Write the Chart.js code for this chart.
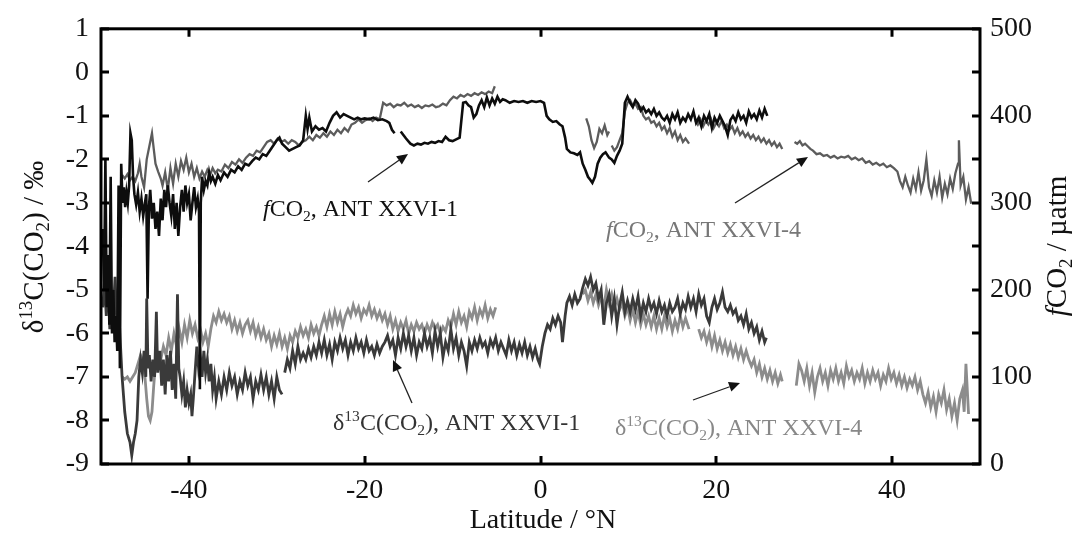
<!DOCTYPE html>
<html>
<head>
<meta charset="utf-8">
<script src="https://cdn.jsdelivr.net/npm/chart.js@4.4.1/dist/chart.umd.min.js"></script>
<style>
html,body{margin:0;padding:0;background:#fff;}
#wrap{width:1082px;height:534px;}
</style>
</head>
<body>
<div id="wrap"><canvas id="c" width="1082" height="534"></canvas></div>
<script>
// ---- axis ticks ----
const latTicks = [-40, -20, 0, 20, 40];
const deltaRange = [-9, 1];
const fco2Range = [0, 500];

// ---- series: [latitude °N, value] (null = gap) ----
const fco2_XXVI1 = [
[-49.8,270],[-49.65,200],[-49.5,350],[-49.35,180],[-49.2,240],[-49.05,160],[-48.9,330],[-48.75,150],[-48.6,200],[-48.45,140],
[-48.3,170],[-48.15,130],[-48.0,320],[-47.85,110],[-47.7,345],[-47.55,300],[-47.4,318],[-47.25,295],[-47.1,312],[-46.95,300],
[-46.8,320],[-46.65,380],[-46.5,372],[-46.35,330],[-46.2,310],[-46.0,298],[-45.8,312],[-45.6,290],[-45.4,305],[-45.2,285],
[-45.0,300],[-44.85,310],[-44.7,190],[-44.55,295],[-44.4,315],[-44.2,282],[-44.0,300],[-43.8,270],[-43.6,290],[-43.4,262],
[-43.2,305],[-43.0,280],[-42.8,315],[-42.6,295],[-42.4,320],[-42.2,300],[-42.0,285],[-41.8,310],[-41.6,270],[-41.4,300],
[-41.2,262],[-41.0,295],[-40.8,315],[-40.6,290],[-40.4,320],[-40.2,300],[-40.0,310],[-39.8,280],[-39.6,300],[-39.4,318],
[-39.2,295],[-39.0,305],[-38.85,290],[-38.75,86],[-38.65,300],[-38.5,330],[-38.3,315],[-38.1,325],[-37.9,320],[-37.7,335],
[-37.5,325],[-37.3,330],[-37.0,322],[-36.7,332],[-36.4,326],[-36.0,335],[-35.6,330],[-35.2,338],[-34.8,335],[-34.4,342],
[-34.0,338],[-33.6,345],[-33.2,343],[-32.8,348],[-32.4,352],[-32.0,350],[-31.6,356],[-31.2,354],[-30.8,360],[-30.4,366],
[-30.0,372],[-29.7,375],[-29.4,368],[-29.0,364],[-28.6,360],[-28.2,362],[-27.8,364],[-27.4,366],[-27.0,372],[-26.7,400],
[-26.5,385],[-26.3,398],[-26.0,382],[-25.6,388],[-25.2,384],[-24.8,386],[-24.4,382],[-24.0,392],[-23.6,400],[-23.2,404],
[-22.8,398],[-22.4,402],[-22.0,400],[-21.6,398],[-21.2,396],[-20.8,398],[-20.4,396],[-20.0,397],[-19.5,396],[-19.0,398],
[-18.5,395],[-18.0,396],[-17.5,394],[-17.2,392],[-16.9,384],[-16.6,380],[-16.4,null],[-15.9,382],[-15.6,378],[-15.3,374],
[-14.8,368],[-14.4,366],[-14.0,368],[-13.6,367],[-13.2,369],[-12.8,368],[-12.4,370],[-12.0,369],[-11.6,371],[-11.2,370],
[-10.8,376],[-10.4,372],[-10.0,371],[-9.6,373],[-9.2,375],[-9.0,395],[-8.8,415],[-8.5,416],[-8.2,412],[-7.9,410],
[-7.6,398],[-7.3,402],[-7.0,412],[-6.7,418],[-6.4,410],[-6.1,421],[-5.8,412],[-5.5,420],[-5.2,414],[-4.9,422],
[-4.6,416],[-4.3,419],[-4.0,418],[-3.5,415],[-3.0,417],[-2.5,416],[-2.0,417],[-1.5,415],[-1.0,417],[-0.5,416],
[0.0,417],[0.4,415],[0.7,400],[1.0,396],[1.4,393],[1.8,394],[2.2,390],[2.5,388],[2.8,375],[3.0,362],
[3.4,358],[3.8,357],[4.2,355],[4.5,358],[4.8,345],[5.1,338],[5.4,330],[5.7,326],[5.9,323],[6.2,330],
[6.5,345],[6.8,352],[7.1,356],[7.4,358],[7.8,352],[8.1,350],[8.4,346],[8.7,354],[9.0,360],[9.3,368],
[9.6,415],[9.9,422],[10.2,415],[10.5,410],[10.8,418],[11.1,414],[11.4,406],[11.7,410],[12.0,404],[12.3,407],
[12.6,402],[12.9,408],[13.2,400],[13.5,404],[13.8,398],[14.1,395],[14.4,400],[14.7,392],[15.0,402],[15.3,396],
[15.6,404],[15.9,392],[16.2,398],[16.5,394],[16.8,402],[17.1,396],[17.4,405],[17.7,392],[18.0,398],[18.3,388],
[18.6,400],[18.9,394],[19.2,402],[19.5,386],[19.8,398],[20.1,392],[20.4,400],[20.7,394],[21.0,388],[21.3,378],
[21.6,395],[21.9,400],[22.2,394],[22.5,404],[22.8,396],[23.1,400],[23.4,392],[23.7,405],[24.0,398],[24.3,402],
[24.6,396],[24.9,406],[25.2,398],[25.5,408],[25.8,400]
];

const fco2_XXVI4 = [
[-47.6,332],[-47.3,328],[-47.0,333],[-46.7,326],[-46.4,330],[-46.1,325],[-45.8,334],[-45.6,345],[-45.4,330],[-45.1,318],
[-44.8,350],[-44.5,365],[-44.2,380],[-44.0,362],[-43.8,345],[-43.5,336],[-43.2,328],[-43.0,320],[-42.7,335],[-42.4,315],
[-42.1,340],[-41.8,322],[-41.5,345],[-41.2,330],[-40.9,348],[-40.6,338],[-40.3,352],[-40.0,335],[-39.7,345],[-39.4,330],
[-39.1,340],[-38.8,328],[-38.5,336],[-38.2,330],[-37.9,338],[-37.6,332],[-37.3,340],[-37.0,334],[-36.7,338],[-36.3,336],
[-35.9,344],[-35.5,340],[-35.1,347],[-34.7,344],[-34.3,350],[-33.9,346],[-33.5,352],[-33.1,356],[-32.7,354],[-32.3,360],
[-31.9,358],[-31.5,364],[-31.1,370],[-30.7,372],[-30.3,368],[-29.9,374],[-29.5,370],[-29.1,372],[-28.7,368],[-28.3,372],
[-27.9,370],[-27.5,366],[-27.1,370],[-26.7,372],[-26.3,376],[-25.9,372],[-25.5,378],[-25.1,375],[-24.7,380],[-24.3,376],
[-23.9,382],[-23.5,378],[-23.1,384],[-22.7,380],[-22.3,386],[-21.9,382],[-21.5,390],[-21.1,392],[-20.7,396],[-20.3,392],
[-19.9,395],[-19.5,397],[-19.1,394],[-18.7,398],[-18.3,396],[-17.9,415],[-17.5,412],[-17.1,414],[-16.7,410],[-16.3,413],
[-15.9,412],[-15.5,415],[-15.1,411],[-14.7,413],[-14.3,410],[-13.9,412],[-13.5,409],[-13.1,412],[-12.7,411],[-12.3,413],
[-11.9,410],[-11.5,411],[-11.1,414],[-10.7,412],[-10.3,418],[-9.9,422],[-9.5,420],[-9.1,424],[-8.7,422],[-8.3,425],
[-7.9,423],[-7.5,426],[-7.1,424],[-6.7,427],[-6.3,425],[-5.9,428],[-5.5,426],[-5.2,434],[-5.0,null],
[5.2,397],[5.5,388],[5.8,372],[6.1,363],[6.4,370],[6.7,385],[7.0,380],[7.3,389],[7.6,378],[7.8,382],[7.95,null],
[8.1,366],[8.4,360],[8.7,364],[9.0,372],[9.3,380],[9.6,405],[9.9,415],[10.2,418],[10.5,412],[10.8,414],
[11.1,408],[11.4,410],[11.7,400],[12.0,396],[12.3,398],[12.6,392],[12.9,394],[13.2,388],[13.5,392],[13.8,384],
[14.1,388],[14.4,380],[14.7,386],[15.0,376],[15.3,382],[15.6,372],[15.9,378],[16.2,370],[16.5,374],[16.9,368],[17.2,null],
[17.6,395],[17.9,390],[18.2,396],[18.5,388],[18.8,394],[19.1,390],[19.4,396],[19.7,386],[20.0,392],[20.3,388],
[20.6,394],[20.9,386],[21.2,390],[21.5,384],[21.8,388],[22.1,380],[22.4,386],[22.7,378],[23.0,382],[23.3,376],
[23.6,380],[23.9,374],[24.2,378],[24.5,372],[24.8,376],[25.1,370],[25.4,374],[25.7,368],[26.0,372],[26.3,366],
[26.6,370],[26.9,364],[27.2,368],[27.5,362],[27.7,null],
[28.9,370],[29.2,368],[29.5,371],[29.8,366],[30.1,368],[30.4,365],[30.7,362],[31.0,360],[31.4,356],[31.8,357],
[32.2,354],[32.6,355],[33.0,352],[33.4,354],[33.8,351],[34.2,353],[34.6,352],[35.0,354],[35.4,350],[35.8,352],
[36.2,349],[36.6,351],[37.0,346],[37.4,348],[37.8,344],[38.2,346],[38.6,343],[39.0,345],[39.4,341],[39.8,343],
[40.2,340],[40.6,336],[40.9,325],[41.2,318],[41.5,330],[41.8,320],[42.1,312],[42.4,328],[42.7,316],[43.0,335],
[43.3,314],[43.6,326],[43.9,350],[44.2,318],[44.5,308],[44.8,326],[45.1,312],[45.4,330],[45.7,306],[46.0,322],
[46.3,310],[46.6,328],[46.9,316],[47.2,334],[47.5,345],[47.6,372],[47.8,320],[48.1,330],[48.4,304],[48.7,318],[49.0,299]
];

const d13C_XXVI1 = [
[-49.8,-5.4],[-49.6,-4.8],[-49.4,-5.6],[-49.2,-4.6],[-49.0,-5.9],[-48.8,-5.0],[-48.6,-5.5],[-48.4,-4.7],[-48.2,-5.8],[-48.0,-5.3],
[-47.85,-6.0],[-47.6,-7.0],[-47.3,-7.8],[-47.0,-8.3],[-46.7,-8.5],[-46.5,-8.8],[-46.3,-8.5],[-46.1,-8.3],[-45.9,-8.0],[-45.7,-7.0],
[-45.5,-6.6],[-45.3,-6.9],[-45.1,-6.4],[-44.9,-7.0],[-44.8,-5.2],[-44.65,-6.8],[-44.5,-6.5],[-44.3,-7.1],[-44.1,-6.6],[-43.9,-7.0],
[-43.7,-5.5],[-43.55,-6.9],[-43.3,-6.4],[-43.1,-7.2],[-42.9,-6.6],[-42.7,-7.4],[-42.5,-6.5],[-42.3,-7.1],[-42.1,-6.4],[-41.9,-7.3],
[-41.7,-6.7],[-41.5,-7.5],[-41.3,-5.1],[-41.15,-6.8],[-41.0,-7.0],[-40.8,-7.4],[-40.6,-7.1],[-40.4,-7.7],[-40.2,-7.3],[-40.0,-7.6],
[-39.8,-7.4],[-39.65,-7.9],[-39.5,-7.5],[-39.3,-6.9],[-39.1,-6.3],[-38.9,-6.8],[-38.7,-6.5],[-38.5,-7.0],[-38.3,-6.4],[-38.1,-6.9],
[-37.9,-6.6],[-37.7,-7.1],[-37.5,-6.7],[-37.3,-7.3],[-37.1,-7.0],[-36.9,-7.5],[-36.6,-7.1],[-36.3,-7.4],[-36.0,-7.0],[-35.7,-7.3],
[-35.4,-6.9],[-35.1,-7.2],[-34.8,-7.0],[-34.5,-7.4],[-34.2,-7.1],[-33.9,-7.3],[-33.6,-6.9],[-33.3,-7.2],[-33.0,-7.0],[-32.7,-7.5],
[-32.4,-7.1],[-32.1,-7.3],[-31.8,-6.95],[-31.5,-7.3],[-31.2,-7.0],[-30.9,-7.4],[-30.6,-7.1],[-30.3,-7.5],[-30.0,-7.0],[-29.7,-7.3],
[-29.4,-7.4],[-29.3,null],[-29.1,-6.9],[-28.8,-6.6],[-28.5,-6.8],[-28.2,-6.4],[-27.9,-6.7],[-27.6,-6.3],[-27.3,-6.6],[-27.0,-6.45],
[-26.7,-6.6],[-26.4,-6.35],[-26.1,-6.55],[-25.8,-6.3],[-25.5,-6.5],[-25.2,-6.2],[-24.9,-6.45],[-24.6,-6.15],[-24.3,-6.5],[-24.0,-6.25],
[-23.7,-6.6],[-23.4,-6.2],[-23.1,-6.4],[-22.8,-6.1],[-22.5,-6.35],[-22.2,-6.15],[-21.9,-6.5],[-21.6,-6.2],[-21.3,-6.4],[-21.0,-6.1],
[-20.7,-6.35],[-20.4,-6.2],[-20.1,-6.45],[-19.8,-6.15],[-19.5,-6.4],[-19.2,-6.3],[-18.9,-6.5],[-18.6,-6.25],[-18.3,-6.45],[-18.0,-6.3],
[-17.7,-6.2],[-17.4,-6.05],[-17.1,-6.3],[-16.8,-6.15],[-16.5,-6.5],[-16.2,-6.1],[-15.9,-6.35],[-15.6,-6.0],[-15.3,-6.3],[-15.0,-6.05],
[-14.7,-6.4],[-14.4,-6.1],[-14.1,-6.5],[-13.8,-6.2],[-13.5,-6.35],[-13.2,-6.0],[-12.9,-6.3],[-12.6,-6.1],[-12.3,-6.45],[-12.0,-5.95],
[-11.7,-6.3],[-11.4,-6.0],[-11.1,-6.55],[-10.8,-6.2],[-10.5,-6.4],[-10.2,-5.9],[-9.9,-6.35],[-9.6,-6.1],[-9.3,-6.5],[-9.0,-6.2],
[-8.7,-6.4],[-8.4,-6.75],[-8.1,-6.2],[-7.8,-6.4],[-7.5,-6.15],[-7.2,-6.35],[-6.9,-6.1],[-6.6,-6.3],[-6.3,-6.2],[-6.0,-6.45],
[-5.7,-6.15],[-5.4,-6.3],[-5.1,-6.1],[-4.8,-6.4],[-4.5,-6.2],[-4.2,-6.35],[-3.9,-6.5],[-3.6,-6.15],[-3.3,-6.4],[-3.0,-6.2],
[-2.7,-6.5],[-2.4,-6.25],[-2.1,-6.45],[-1.8,-6.2],[-1.5,-6.5],[-1.2,-6.3],[-0.9,-6.55],[-0.6,-6.35],[-0.3,-6.6],[-0.1,-6.7],
[0.2,-6.3],[0.5,-6.0],[0.8,-5.8],[1.1,-5.9],[1.4,-5.65],[1.7,-5.8],[2.0,-5.6],[2.3,-5.75],[2.5,-6.2],[2.8,-5.6],
[3.0,-5.3],[3.3,-5.15],[3.6,-5.35],[3.9,-5.1],[4.2,-5.3],[4.5,-5.2],[4.8,-4.95],[5.1,-4.75],[5.4,-4.9],[5.7,-4.7],
[6.0,-5.0],[6.3,-4.85],[6.6,-5.2],[6.9,-5.0],[7.2,-5.8],[7.5,-5.3],[7.8,-5.1],[8.1,-5.6],[8.4,-5.2],[8.7,-5.8],
[9.0,-5.35],[9.3,-5.05],[9.6,-5.5],[9.9,-5.25],[10.2,-5.5],[10.5,-5.2],[10.8,-5.45],[11.1,-5.15],[11.4,-5.6],[11.7,-5.3],
[12.0,-5.5],[12.3,-5.2],[12.6,-5.45],[12.9,-5.3],[13.2,-5.55],[13.5,-5.25],[13.8,-5.5],[14.1,-5.35],[14.4,-5.6],[14.7,-5.3],
[15.0,-5.5],[15.3,-5.4],[15.6,-5.2],[15.9,-5.55],[16.2,-5.3],[16.5,-5.45],[16.8,-5.15],[17.1,-5.4],[17.4,-5.2],[17.7,-5.5],
[18.0,-5.1],[18.3,-5.35],[18.6,-5.2],[18.9,-5.6],[19.2,-5.75],[19.5,-5.4],[19.8,-5.2],[20.1,-5.45],[20.4,-5.3],[20.7,-5.05],
[21.0,-5.4],[21.3,-5.5],[21.6,-5.35],[21.9,-5.55],[22.2,-5.45],[22.5,-5.7],[22.8,-5.6],[23.1,-5.8],[23.4,-5.55],[23.7,-5.9],
[24.0,-5.75],[24.3,-6.0],[24.6,-5.85],[24.9,-6.15],[25.2,-5.95],[25.5,-6.2],[25.7,-6.1]
];

const d13C_XXVI4 = [
[-47.6,-7.0],[-47.3,-7.05],[-47.0,-7.0],[-46.7,-7.1],[-46.4,-7.0],[-46.1,-6.9],[-45.8,-6.7],[-45.5,-6.5],[-45.3,-6.6],[-45.0,-7.0],
[-44.8,-7.5],[-44.6,-7.9],[-44.4,-8.0],[-44.2,-7.8],[-44.0,-7.2],[-43.8,-6.7],[-43.5,-6.5],[-43.2,-6.6],[-42.9,-6.3],[-42.6,-6.5],
[-42.3,-6.1],[-42.0,-6.4],[-41.7,-6.0],[-41.4,-6.3],[-41.1,-5.9],[-40.8,-6.2],[-40.5,-5.8],[-40.2,-6.1],[-39.9,-5.7],[-39.6,-6.0],
[-39.3,-5.8],[-39.0,-6.1],[-38.7,-5.9],[-38.4,-6.2],[-38.1,-6.0],[-37.8,-6.3],[-37.5,-5.9],[-37.2,-5.6],[-36.9,-5.75],[-36.6,-5.5],
[-36.3,-5.7],[-36.0,-5.55],[-35.7,-5.75],[-35.4,-5.6],[-35.1,-5.9],[-34.8,-5.7],[-34.5,-5.95],[-34.2,-5.75],[-33.9,-6.0],[-33.6,-5.8],
[-33.3,-5.7],[-33.0,-5.95],[-32.7,-5.75],[-32.4,-6.05],[-32.1,-5.85],[-31.8,-6.1],[-31.5,-5.9],[-31.2,-6.15],[-30.9,-6.0],[-30.6,-6.3],
[-30.3,-6.05],[-30.0,-6.25],[-29.7,-6.0],[-29.4,-6.3],[-29.1,-6.1],[-28.8,-6.35],[-28.5,-6.05],[-28.2,-6.2],[-27.9,-5.95],[-27.6,-6.1],
[-27.3,-5.85],[-27.0,-6.05],[-26.7,-5.9],[-26.4,-6.1],[-26.1,-5.8],[-25.8,-6.0],[-25.5,-5.85],[-25.2,-6.05],[-24.9,-5.8],[-24.6,-5.6],
[-24.3,-5.85],[-24.0,-5.55],[-23.7,-5.8],[-23.4,-5.5],[-23.1,-5.75],[-22.8,-5.55],[-22.5,-5.85],[-22.2,-5.6],[-21.9,-5.45],[-21.6,-5.6],
[-21.3,-5.35],[-21.0,-5.55],[-20.7,-5.4],[-20.4,-5.65],[-20.1,-5.45],[-19.8,-5.55],[-19.5,-5.35],[-19.2,-5.6],[-18.9,-5.45],[-18.6,-5.65],
[-18.3,-5.5],[-18.0,-5.7],[-17.7,-5.55],[-17.4,-5.8],[-17.1,-5.6],[-16.8,-5.9],[-16.5,-5.7],[-16.2,-5.95],[-15.9,-5.75],[-15.6,-5.9],
[-15.3,-5.7],[-15.0,-6.0],[-14.7,-5.8],[-14.4,-5.95],[-14.1,-5.75],[-13.8,-5.9],[-13.5,-5.8],[-13.2,-6.0],[-12.9,-5.8],[-12.6,-5.95],
[-12.3,-5.75],[-12.0,-5.9],[-11.7,-5.8],[-11.4,-6.0],[-11.1,-5.85],[-10.8,-5.95],[-10.5,-5.7],[-10.2,-5.85],[-9.9,-5.55],[-9.6,-5.8],
[-9.3,-5.5],[-9.0,-5.75],[-8.7,-5.6],[-8.4,-5.85],[-8.1,-5.5],[-7.8,-5.65],[-7.5,-5.4],[-7.2,-5.7],[-6.9,-5.45],[-6.6,-5.6],
[-6.3,-5.35],[-6.0,-5.65],[-5.7,-5.45],[-5.4,-5.6],[-5.1,-5.4],[-5.0,null],
[4.8,-5.1],[5.1,-5.0],[5.4,-5.25],[5.7,-5.05],[6.0,-5.3],[6.3,-5.1],[6.6,-5.35],[6.9,-5.15],[7.2,-5.4],[7.5,-5.0],
[7.8,-5.3],[8.1,-5.1],[8.4,-5.4],[8.7,-5.2],[9.0,-5.45],[9.3,-5.3],[9.6,-5.6],[9.9,-5.4],[10.2,-5.7],[10.5,-5.45],
[10.8,-5.75],[11.1,-5.5],[11.4,-5.8],[11.7,-5.55],[12.0,-5.8],[12.3,-5.6],[12.6,-5.85],[12.9,-5.6],[13.2,-5.9],[13.5,-5.65],
[13.8,-5.9],[14.1,-5.6],[14.4,-5.85],[14.7,-5.65],[15.0,-5.95],[15.3,-5.7],[15.6,-5.9],[15.9,-5.6],[16.2,-5.85],[16.5,-5.65],
[16.9,-5.9],[17.2,null],
[18.0,-5.9],[18.3,-6.1],[18.6,-5.95],[18.9,-6.2],[19.2,-6.0],[19.5,-6.3],[19.8,-6.05],[20.1,-6.35],[20.4,-6.15],[20.7,-6.4],
[21.0,-6.2],[21.3,-6.45],[21.6,-6.25],[21.9,-6.5],[22.2,-6.3],[22.5,-6.55],[22.8,-6.35],[23.1,-6.6],[23.4,-6.4],[23.7,-6.6],
[24.0,-6.75],[24.3,-6.6],[24.6,-6.9],[24.9,-6.7],[25.2,-7.0],[25.5,-6.8],[25.8,-7.05],[26.1,-6.85],[26.4,-7.1],[26.7,-6.9],
[27.0,-7.15],[27.3,-6.95],[27.5,-7.1],[27.8,null],
[29.1,-7.2],[29.4,-6.7],[29.7,-6.85],[30.0,-7.1],[30.3,-6.8],[30.6,-7.2],[30.9,-6.9],[31.2,-7.35],[31.5,-7.0],[31.8,-6.8],
[32.1,-7.1],[32.4,-6.9],[32.7,-7.2],[33.0,-6.85],[33.3,-7.05],[33.6,-6.8],[33.9,-7.1],[34.2,-6.9],[34.5,-7.15],[34.8,-6.75],
[35.1,-7.0],[35.4,-6.85],[35.7,-7.1],[36.0,-6.9],[36.3,-7.05],[36.6,-6.8],[36.9,-7.15],[37.2,-6.9],[37.5,-7.1],[37.8,-6.85],
[38.1,-7.05],[38.4,-6.9],[38.7,-7.2],[39.0,-6.95],[39.3,-7.1],[39.6,-6.8],[39.9,-7.05],[40.2,-6.9],[40.5,-7.15],[40.8,-6.95],
[41.1,-7.2],[41.4,-7.0],[41.7,-7.25],[42.0,-7.05],[42.3,-7.2],[42.6,-7.0],[42.9,-7.3],[43.2,-7.1],[43.5,-7.4],[43.8,-7.6],
[44.1,-7.35],[44.4,-7.7],[44.7,-7.45],[45.0,-7.8],[45.3,-7.4],[45.6,-7.6],[45.9,-7.3],[46.2,-7.75],[46.5,-7.5],[46.8,-7.9],
[47.1,-7.6],[47.4,-8.0],[47.7,-7.5],[48.0,-7.3],[48.2,-7.8],[48.4,-6.7],[48.7,-7.85]
];

// ---- annotation labels ----
const labels = [
  {segs:[{t:'f',it:true},{t:'CO'},{t:'2',sub:true},{t:', ANT XXVI-1'}], x:263, y:216, color:'#111', arrow:[368,182,408,154]},
  {segs:[{t:'f',it:true},{t:'CO'},{t:'2',sub:true},{t:', ANT XXVI-4'}], x:606, y:237, color:'#777', arrow:[735,203,808,157]},
  {segs:[{t:'δ'},{t:'13',sup:true},{t:'C(CO'},{t:'2',sub:true},{t:'), ANT XXVI-1'}], x:333, y:430, color:'#333', arrow:[412,403,393,360]},
  {segs:[{t:'δ'},{t:'13',sup:true},{t:'C(CO'},{t:'2',sub:true},{t:'), ANT XXVI-4'}], x:615, y:435, color:'#888', arrow:[693,400,740,383]}
];

const FONT = '"Liberation Serif", "Times New Roman", serif';

function richWidth(ctx, segs, size){
  let w = 0;
  for(const s of segs){
    const fs = (s.sup||s.sub) ? size*0.65 : size;
    ctx.font = (s.it?'italic ':'') + fs + 'px ' + FONT;
    w += ctx.measureText(s.t).width;
  }
  return w;
}
function drawRich(ctx, segs, x, y, size, color){
  let cx = x;
  ctx.fillStyle = color;
  ctx.textBaseline = 'alphabetic';
  ctx.textAlign = 'left';
  for(const s of segs){
    const fs = (s.sup||s.sub) ? size*0.65 : size;
    ctx.font = (s.it?'italic ':'') + fs + 'px ' + FONT;
    let dy = 0;
    if(s.sup) dy = -size*0.38;
    if(s.sub) dy = size*0.22;
    ctx.fillText(s.t, cx, y+dy);
    cx += ctx.measureText(s.t).width;
  }
}
function arrow(ctx, x1,y1,x2,y2){
  ctx.save();
  ctx.strokeStyle = '#222'; ctx.fillStyle = '#111'; ctx.lineWidth = 1.3;
  const ang = Math.atan2(y2-y1, x2-x1);
  const L = 11, W = 5;
  const bx = x2 - L*Math.cos(ang), by = y2 - L*Math.sin(ang);
  ctx.beginPath(); ctx.moveTo(x1,y1); ctx.lineTo(bx,by); ctx.stroke();
  ctx.beginPath();
  ctx.moveTo(x2,y2);
  ctx.lineTo(bx + W*Math.sin(ang), by - W*Math.cos(ang));
  ctx.lineTo(bx - W*Math.sin(ang), by + W*Math.cos(ang));
  ctx.closePath(); ctx.fill();
  ctx.restore();
}

const framePlugin = {
  id:'frame',
  afterDatasetsDraw(chart){
    const {ctx, chartArea:a, scales} = chart;
    const x = scales.x, yL = scales.yL, yR = scales.yR;
    ctx.save();
    ctx.strokeStyle = '#000';
    ctx.lineWidth = 3;
    ctx.lineCap = 'butt';
    ctx.strokeRect(a.left, a.top, a.right-a.left, a.bottom-a.top);
    const T = 8;
    ctx.beginPath();
    for(let v = deltaRange[0]; v <= deltaRange[1]; v++){
      const py = Math.round(yL.getPixelForValue(v));
      ctx.moveTo(a.left, py); ctx.lineTo(a.left+T, py);
    }
    for(let v = fco2Range[0]; v <= fco2Range[1]; v += 50){
      const py = Math.round(yR.getPixelForValue(v));
      ctx.moveTo(a.right, py); ctx.lineTo(a.right-T, py);
    }
    for(const v of latTicks){
      const px = Math.round(x.getPixelForValue(v));
      ctx.moveTo(px, a.bottom); ctx.lineTo(px, a.bottom-T);
      ctx.moveTo(px, a.top); ctx.lineTo(px, a.top+T);
    }
    ctx.stroke();
    ctx.restore();
  },
  afterDraw(chart){
    const ctx = chart.ctx;
    ctx.save();
    for(const l of labels){
      drawRich(ctx, l.segs, l.x, l.y, 24, l.color);
      arrow(ctx, ...l.arrow);
    }
    const xt = [{t:'Latitude / °N'}];
    const xw = richWidth(ctx, xt, 28);
    drawRich(ctx, xt, 543 - xw/2, 528, 28, '#111');
    const lt = [{t:'δ'},{t:'13',sup:true},{t:'C(CO'},{t:'2',sub:true},{t:') / ‰'}];
    ctx.save();
    ctx.translate(43, 247); ctx.rotate(-Math.PI/2);
    const lw = richWidth(ctx, lt, 29);
    drawRich(ctx, lt, -lw/2, 0, 29, '#111');
    ctx.restore();
    const rt = [{t:'f',it:true},{t:'CO'},{t:'2',sub:true},{t:' / µatm'}];
    ctx.save();
    ctx.translate(1066, 246); ctx.rotate(-Math.PI/2);
    const rw = richWidth(ctx, rt, 29);
    drawRich(ctx, rt, -rw/2, 0, 29, '#111');
    ctx.restore();
    ctx.restore();
  }
};

const toPts = arr => arr.map(p => ({x:p[0], y:p[1]}));

Chart.defaults.font.family = FONT;
new Chart(document.getElementById('c'), {
  type:'line',
  data:{
    datasets:[
      {label:'fCO2 ANT XXVI-1', data:toPts(fco2_XXVI1), yAxisID:'yR', borderColor:'#0d0d0d', borderWidth:2.6},
      {label:'fCO2 ANT XXVI-4', data:toPts(fco2_XXVI4), yAxisID:'yR', borderColor:'#5c5c5c', borderWidth:2.3},
      {label:'d13C ANT XXVI-1', data:toPts(d13C_XXVI1), yAxisID:'yL', borderColor:'#3a3a3a', borderWidth:2.8},
      {label:'d13C ANT XXVI-4', data:toPts(d13C_XXVI4), yAxisID:'yL', borderColor:'#8c8c8c', borderWidth:2.8}
    ]
  },
  options:{
    responsive:false,
    animation:false,
    spanGaps:false,
    layout:{padding:{top:22,left:0,right:0,bottom:0}},
    elements:{point:{radius:0}, line:{tension:0, borderJoinStyle:'miter'}},
    plugins:{legend:{display:false}, tooltip:{enabled:false}},
    scales:{
      x:{type:'linear', position:'bottom', min:-50, max:50,
         grid:{display:false, drawTicks:false}, border:{display:false},
         ticks:{font:{size:28}, color:'#111', padding:10},
         afterBuildTicks: s => { s.ticks = latTicks.map(v => ({value:v})); },
         afterFit: s => { s.height = 70; }},
      yL:{type:'linear', position:'left', min:deltaRange[0], max:deltaRange[1],
         grid:{display:false, drawTicks:false}, border:{display:false},
         ticks:{stepSize:1, font:{size:28}, color:'#111', padding:12},
         afterFit: s => { s.width = 101; }},
      yR:{type:'linear', position:'right', min:fco2Range[0], max:fco2Range[1],
         grid:{display:false, drawTicks:false}, border:{display:false},
         ticks:{stepSize:100, font:{size:28}, color:'#111', padding:10},
         afterFit: s => { s.width = 102; }}
    }
  },
  plugins:[framePlugin]
});
</script>
</body>
</html>
